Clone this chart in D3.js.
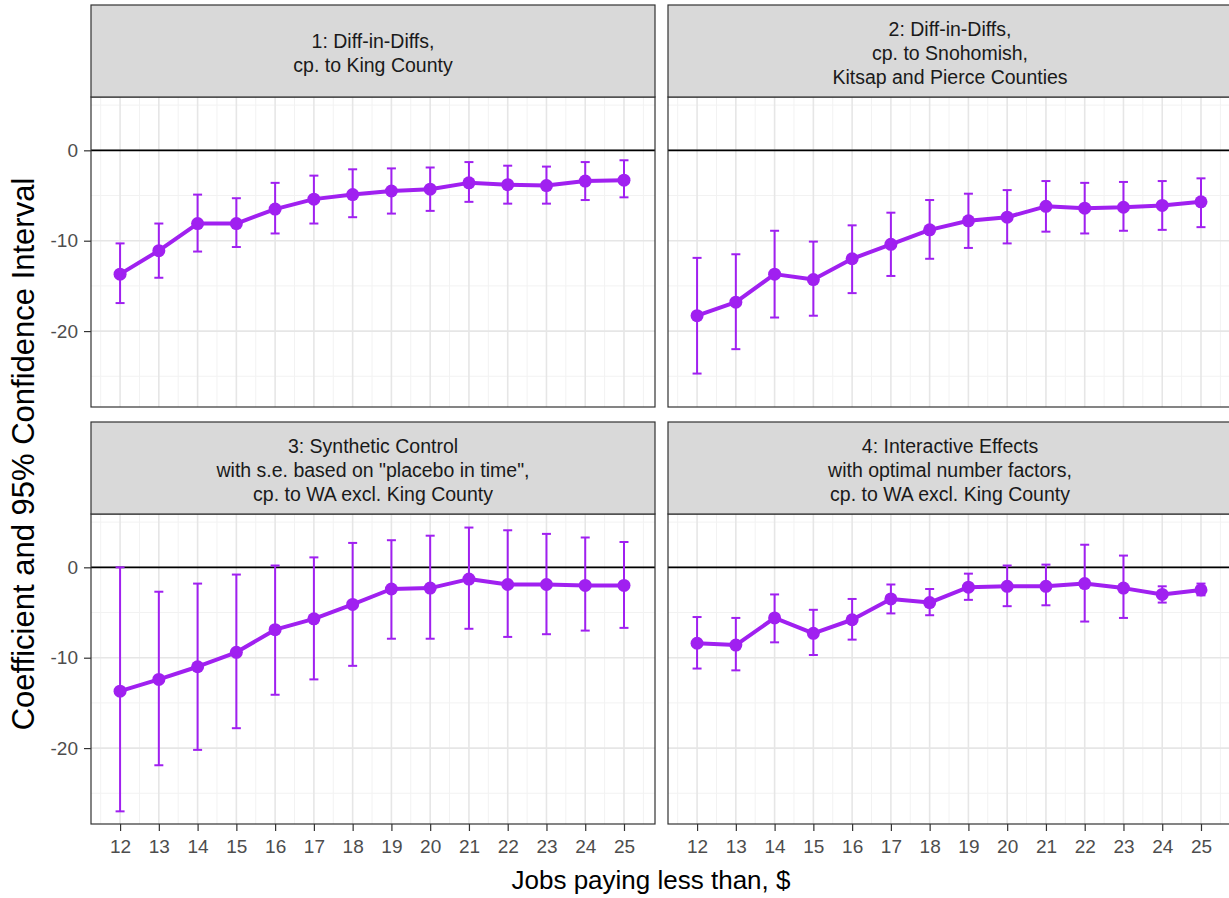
<!DOCTYPE html>
<html>
<head>
<meta charset="utf-8">
<script src="https://cdn.jsdelivr.net/npm/d3@7"></script>
<style>
  body { margin: 0; background: #fff; }
  text { font-family: "Liberation Sans", Arial, sans-serif; }
</style>
</head>
<body>
<div id="chart"></div>
<script>
// Wage thresholds on x.
const wages = [12, 13, 14, 15, 16, 17, 18, 19, 20, 21, 22, 23, 24, 25];

// Facet titles, one line per entry.
const titles = [
	["1: Diff-in-Diffs,", "cp. to King County"],
	["2: Diff-in-Diffs,", "cp. to Snohomish,", "Kitsap and Pierce Counties"],
	["3: Synthetic Control", "with s.e. based on \"placebo in time\",", "cp. to WA excl. King County"],
	["4: Interactive Effects", "with optimal number factors,", "cp. to WA excl. King County"]
];

// Coefficients and 95% CI bounds.
const est1 = [-13.7, -11.1, -8.1, -8.1, -6.5, -5.4, -4.9, -4.5, -4.3, -3.6, -3.8, -3.9, -3.4, -3.3];
const lo1  = [-16.9, -14.1, -11.2, -10.7, -9.2, -8.1, -7.4, -7.0, -6.7, -5.7, -5.9, -5.9, -5.5, -5.2];
const hi1  = [-10.3, -8.1, -4.9, -5.3, -3.6, -2.8, -2.1, -2.0, -1.9, -1.3, -1.7, -1.8, -1.3, -1.1];

const est2 = [-18.3, -16.8, -13.7, -14.3, -12.0, -10.4, -8.8, -7.8, -7.4, -6.2, -6.4, -6.3, -6.1, -5.7];
const lo2  = [-24.7, -22.0, -18.5, -18.3, -15.8, -13.9, -12.0, -10.8, -10.3, -9.0, -9.2, -8.9, -8.8, -8.5];
const hi2  = [-11.9, -11.5, -8.9, -10.1, -8.3, -6.9, -5.5, -4.8, -4.4, -3.4, -3.6, -3.5, -3.4, -3.1];

const est3 = [-13.7, -12.4, -11.0, -9.4, -6.9, -5.7, -4.1, -2.4, -2.3, -1.3, -1.9, -1.9, -2.0, -2.0];
const lo3  = [-27.0, -21.9, -20.2, -17.8, -14.1, -12.4, -10.9, -7.9, -7.9, -6.8, -7.7, -7.4, -7.0, -6.7];
const hi3  = [0.0, -2.7, -1.8, -0.8, 0.2, 1.1, 2.7, 3.0, 3.5, 4.4, 4.1, 3.7, 3.3, 2.8];

const est4 = [-8.4, -8.6, -5.6, -7.3, -5.8, -3.5, -3.9, -2.2, -2.1, -2.1, -1.8, -2.3, -3.0, -2.5];
const lo4  = [-11.2, -11.4, -8.3, -9.7, -8.0, -5.1, -5.3, -3.6, -4.3, -4.2, -6.0, -5.6, -3.9, -3.1];
const hi4  = [-5.5, -5.6, -3.0, -4.7, -3.5, -1.9, -2.4, -0.7, 0.2, 0.3, 2.5, 1.3, -2.1, -1.8];

const yTicks = [0, -10, -20];
const yMinor = [5, -5, -15, -25];

// Layout.
const W = 1229, H = 898;
const colX = [91, 668], colW = 564;
const rowY = [5, 422], stripH = 92, plotH = 310;
const purple = "#a020f0";
const font = "'Liberation Sans', Arial, sans-serif";

const svg = d3.select("#chart").append("svg")
	.attr("width", W)
	.attr("height", H);

// Scales shared by all facets.
const x = d3.scaleLinear()
	.domain([11.25, 25.8])
	.range([0, colW]);
const y = d3.scaleLinear()
	.domain([-28.4, 5.9])
	.range([plotH, 0]);

const series = [
	[est1, lo1, hi1],
	[est2, lo2, hi2],
	[est3, lo3, hi3],
	[est4, lo4, hi4]
];

const halfWages = d3.range(11.5, 26, 1);

series.forEach(function(s, k) {
	const col = k % 2, row = Math.floor(k / 2);
	const g = svg.append("g")
		.attr("transform", "translate(" + colX[col] + "," + (rowY[row] + stripH) + ")");

	// Strip.
	const strip = svg.append("g")
		.attr("transform", "translate(" + colX[col] + "," + rowY[row] + ")");
	strip.append("rect")
		.attr("width", colW).attr("height", stripH)
		.attr("fill", "#d9d9d9")
		.attr("stroke", "#333").attr("stroke-width", 1.2);
	const lines = titles[k];
	strip.selectAll("text")
		.data(lines)
		.join("text")
		.attr("x", colW / 2)
		.attr("y", (d, i) => 48 + (i - (lines.length - 1) / 2) * 24)
		.attr("dy", "0.35em")
		.attr("text-anchor", "middle")
		.attr("font-size", 19.5)
		.attr("fill", "#1a1a1a")
		.text(d => d);

	// Panel background and grid.
	g.append("rect").attr("width", colW).attr("height", plotH).attr("fill", "#fff");
	g.selectAll("line.vminor")
		.data(halfWages)
		.join("line")
		.attr("class", "vminor")
		.attr("x1", d => x(d)).attr("x2", d => x(d))
		.attr("y1", 0).attr("y2", plotH)
		.attr("stroke", "#f2f2f2").attr("stroke-width", 1);
	g.selectAll("line.hminor")
		.data(yMinor)
		.join("line")
		.attr("class", "hminor")
		.attr("x1", 0).attr("x2", colW)
		.attr("y1", d => y(d)).attr("y2", d => y(d))
		.attr("stroke", "#f2f2f2").attr("stroke-width", 1);
	g.selectAll("line.vmajor")
		.data(wages)
		.join("line")
		.attr("class", "vmajor")
		.attr("x1", d => x(d)).attr("x2", d => x(d))
		.attr("y1", 0).attr("y2", plotH)
		.attr("stroke", "#e6e6e6").attr("stroke-width", 1.6);
	g.selectAll("line.hmajor")
		.data(yTicks)
		.join("line")
		.attr("class", "hmajor")
		.attr("x1", 0).attr("x2", colW)
		.attr("y1", d => y(d)).attr("y2", d => y(d))
		.attr("stroke", "#e6e6e6").attr("stroke-width", 1.6);

	// Zero line.
	g.append("line")
		.attr("x1", 0).attr("x2", colW)
		.attr("y1", y(0)).attr("y2", y(0))
		.attr("stroke", "#000").attr("stroke-width", 1.8);

	const pts = wages.map((w, i) => ({ w: w, est: s[0][i], lo: s[1][i], hi: s[2][i] }));

	// Error bars.
	const bars = g.append("g").attr("stroke", purple).attr("stroke-width", 2);
	bars.selectAll("line.err")
		.data(pts)
		.join("line")
		.attr("class", "err")
		.attr("x1", d => x(d.w)).attr("x2", d => x(d.w))
		.attr("y1", d => y(d.lo)).attr("y2", d => y(d.hi));
	["lo", "hi"].forEach(function(key) {
		bars.selectAll("line.cap" + key)
			.data(pts)
			.join("line")
			.attr("class", "cap" + key)
			.attr("x1", d => x(d.w) - 4.5).attr("x2", d => x(d.w) + 4.5)
			.attr("y1", d => y(d[key])).attr("y2", d => y(d[key]));
	});

	// Line and points.
	g.append("path")
		.datum(pts)
		.attr("fill", "none")
		.attr("stroke", purple)
		.attr("stroke-width", 4)
		.attr("stroke-linejoin", "round")
		.attr("d", d3.line().x(d => x(d.w)).y(d => y(d.est)));
	g.selectAll("circle")
		.data(pts)
		.join("circle")
		.attr("cx", d => x(d.w))
		.attr("cy", d => y(d.est))
		.attr("r", 6.5)
		.attr("fill", purple);

	// Panel border.
	g.append("rect")
		.attr("width", colW).attr("height", plotH)
		.attr("fill", "none")
		.attr("stroke", "#333").attr("stroke-width", 1.2);

	// Y axis on left column.
	if (col === 0) {
		const ya = g.append("g")
			.call(d3.axisLeft(y).tickValues(yTicks).tickSize(7).tickPadding(6).tickFormat(d => String(d)));
		ya.select(".domain").remove();
		ya.selectAll("line").attr("stroke", "#333").attr("stroke-width", 1.2);
		ya.selectAll("text").attr("font-size", 19).attr("fill", "#4d4d4d")
			.style("font-family", font);
	}

	// X axis on bottom row.
	if (row === 1) {
		const xa = g.append("g")
			.attr("transform", "translate(0," + plotH + ")")
			.call(d3.axisBottom(x).tickValues(wages).tickSize(7).tickPadding(9).tickFormat(d => String(d)));
		xa.select(".domain").remove();
		xa.selectAll("line").attr("stroke", "#333").attr("stroke-width", 1.2);
		xa.selectAll("text").attr("font-size", 19).attr("fill", "#4d4d4d")
			.style("font-family", font);
	}
});

// Axis titles.
svg.append("text")
	.attr("x", 651)
	.attr("y", 889)
	.attr("text-anchor", "middle")
	.attr("font-size", 26)
	.attr("fill", "#000")
	.text("Jobs paying less than, $");
svg.append("text")
	.attr("transform", "translate(34," + 454 + ") rotate(-90)")
	.attr("text-anchor", "middle")
	.attr("font-size", 31)
	.attr("fill", "#000")
	.text("Coefficient and 95% Confidence Interval");
</script>
</body>
</html>
